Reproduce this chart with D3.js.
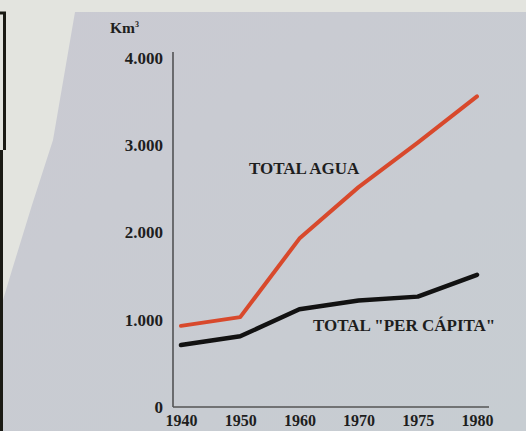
<!DOCTYPE html>
<html>
<head>
<meta charset="utf-8">
<script src="https://cdn.jsdelivr.net/npm/d3@7"></script>
<style>
  html, body { margin: 0; padding: 0; background: #e3e4df; }
  svg { display: block; }
</style>
</head>
<body>
<svg id="chart" width="526" height="431"></svg>
<script>
const years = ["1940", "1950", "1960", "1970", "1975", "1980"];
const totalAgua = [930, 1030, 1930, 2520, 3030, 3560];
const totalPerCapita = [710, 810, 1120, 1220, 1265, 1515];
const yTicks = [0, 1000, 2000, 3000, 4000];
const unitLabel = "Km";
const seriesLabels = ["TOTAL AGUA", "TOTAL \"PER CÁPITA\""];

const W = 526, H = 431;
const svg = d3.select("#chart");
const serif = "'Liberation Serif', 'DejaVu Serif', serif";

// background
svg.append("rect").attr("x", 0).attr("y", 0).attr("width", W).attr("height", H).attr("fill", "#e3e4df");
const grad = svg.append("defs").append("linearGradient").attr("id", "bg")
  .attr("x1", "0").attr("y1", "0").attr("x2", "1").attr("y2", "1");
grad.append("stop").attr("offset", "0").attr("stop-color", "#cacad2");
grad.append("stop").attr("offset", "1").attr("stop-color", "#c7cdd2");
svg.append("path")
  .attr("d", "M75,12 L526,12 L526,431 L3,431 L3,300 L12,270 L32,205 L53,140 Z")
  .attr("fill", "url(#bg)");
// dark frame on the left edge
svg.append("path").attr("d", "M0,13 L4.5,13 L4.5,150")
  .attr("stroke", "#1a1a14").attr("stroke-width", 3).attr("fill", "none");
svg.append("path").attr("d", "M1.5,150 L1.5,431")
  .attr("stroke", "#1a1a14").attr("stroke-width", 3).attr("fill", "none");

const x = d3.scalePoint().domain(years).range([181, 477]);
const y = d3.scaleLinear().domain([0, 4000]).range([407, 58]);

const loc = d3.formatLocale({ decimal: ",", thousands: ".", grouping: [3], currency: ["", ""] });
const fmt = loc.format(",d");

// axes lines
svg.append("line").attr("x1", 173).attr("x2", 173).attr("y1", y(4000) - 6).attr("y2", y(0))
  .attr("stroke", "#2a2a2a").attr("stroke-width", 1.2);
svg.append("line").attr("x1", 173).attr("x2", 489).attr("y1", y(0)).attr("y2", y(0))
  .attr("stroke", "#555").attr("stroke-width", 1.5);

const yAxis = svg.append("g").attr("transform", "translate(173,0)")
  .call(d3.axisLeft(y).tickValues(yTicks).tickSize(0).tickPadding(10).tickFormat(fmt));
yAxis.select(".domain").remove();
yAxis.selectAll("text").attr("font-family", serif).attr("font-weight", "bold")
  .attr("font-size", 17).attr("fill", "#1e1e1e");

const xAxis = svg.append("g").attr("transform", "translate(0," + y(0) + ")")
  .call(d3.axisBottom(x).tickSize(0).tickPadding(8));
xAxis.select(".domain").remove();
xAxis.selectAll("text").attr("font-family", serif).attr("font-weight", "bold")
  .attr("font-size", 16).attr("fill", "#1e1e1e");

// unit label
const unit = svg.append("text").attr("x", 110).attr("y", 33)
  .attr("font-family", serif).attr("font-weight", "bold").attr("font-size", 15.5).attr("fill", "#1e1e1e");
unit.append("tspan").text(unitLabel);
unit.append("tspan").attr("dy", -6).attr("font-size", 8).text("3");

const line = d3.line().x((d, i) => x(years[i])).y(d => y(d));

svg.append("path").datum(totalAgua).attr("d", line)
  .attr("fill", "none").attr("stroke", "#d8492c").attr("stroke-width", 4)
  .attr("stroke-linejoin", "round").attr("stroke-linecap", "round");
svg.append("path").datum(totalPerCapita).attr("d", line)
  .attr("fill", "none").attr("stroke", "#121212").attr("stroke-width", 4.5)
  .attr("stroke-linejoin", "round").attr("stroke-linecap", "round");

svg.append("text").attr("x", 249).attr("y", 174).text(seriesLabels[0])
  .attr("font-family", serif).attr("font-weight", "bold").attr("font-size", 17).attr("fill", "#1e1e1e");
svg.append("text").attr("x", 313).attr("y", 331).text(seriesLabels[1])
  .attr("font-family", serif).attr("font-weight", "bold").attr("font-size", 17).attr("fill", "#1e1e1e");
</script>
</body>
</html>
